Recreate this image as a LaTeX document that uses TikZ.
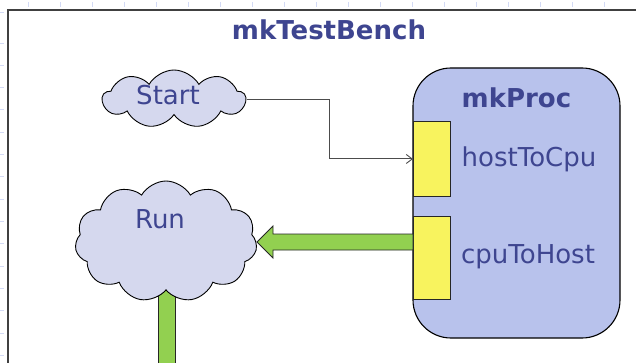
\documentclass[tikz,border=0pt]{standalone}
\usepackage{fontspec}
\setmainfont{DejaVu Sans}
\usetikzlibrary{shapes.symbols,arrows.meta}
\definecolor{txtblue}{HTML}{3E4590}
\definecolor{cloudfill}{HTML}{D5D8EE}
\definecolor{procfill}{HTML}{B8C2EC}
\definecolor{portfill}{HTML}{F8F35E}
\definecolor{green}{HTML}{92D050}
\definecolor{tick}{HTML}{D3DAF5}
\tikzset{
  lbl/.style={text=txtblue, font=\fontsize{26}{30}\selectfont, inner sep=0},
  blbl/.style={lbl, font=\fontsize{26}{30}\selectfont\bfseries},
  cloudnode/.style={cloud, draw=black, line width=0.9pt, fill=cloudfill, inner sep=0, cloud puff arc=120},
  portbox/.style={draw=black!85, line width=0.9pt, fill=portfill, minimum width=37pt, inner sep=0},
  conn/.style={draw=black!70, line width=0.9pt, -{Straight Barb[length=6pt,width=9pt]}},
  fat/.style={draw=black!85, line width=0.9pt, fill=green},
}
\begin{document}
\begin{tikzpicture}[x=1pt,y=-1pt]
\useasboundingbox (0,0) rectangle (636,363);
% ruler ticks
\foreach \x in {28,60,...,636} \draw[tick, line width=0.8pt] (\x,2) -- (\x,7);
\foreach \y in {12,43,65.3,87.6,109.9,132.2,154.5,176.8,199.1,221.4,243.7,266,288.3,310.6,332.9,355.2} \draw[tick, line width=0.8pt] (0,\y) -- (4,\y);
% outer box
\draw[black!75, line width=1.8pt] (8,370) -- (8,10) -- (645,10);
\node[blbl] (title) at (329,30) {mkTestBench};
% green vertical bar
\draw[fat] (158,290) rectangle (175,370);
% clouds
\node[cloudnode, cloud puffs=9, aspect=2.5, minimum width=143pt, minimum height=58pt] (start) at (174,99) {};
\node[lbl] (startlbl) at (168,95) {Start};
\node[cloudnode, cloud puffs=11, aspect=1.5, minimum width=182pt, minimum height=121pt] (run) at (166,241.5) {};
\node[lbl] (runlbl) at (160,219) {Run};
% proc
\node[draw=black, line width=1.1pt, fill=procfill, rounded corners=38pt, minimum width=207pt, minimum height=270pt, inner sep=0] (proc) at (516.5,203) {};
\node[blbl] (proclbl) at (516.5,97.5) {mkProc};
\node[portbox, minimum height=75pt, anchor=north west] (p1) at (413,121) {};
\node[portbox, minimum height=83pt, anchor=north west] (p2) at (413,216) {};
\node[lbl] (h2c) at (529,159) {hostToCpu};
\node[lbl] (c2h) at (528,257) {cpuToHost};
% connector
\coordinate (bend) at (329,99);
\draw[conn] (start.east |- bend) -- (bend) |- (p1.west);
% green arrow
\draw[fat] (p2.west |- 0,234) -- (273,234) -- (273,226) -- (257,242) -- (273,258) -- (273,250) -- (p2.west |- 0,250) -- cycle;
\end{tikzpicture}
\end{document}
